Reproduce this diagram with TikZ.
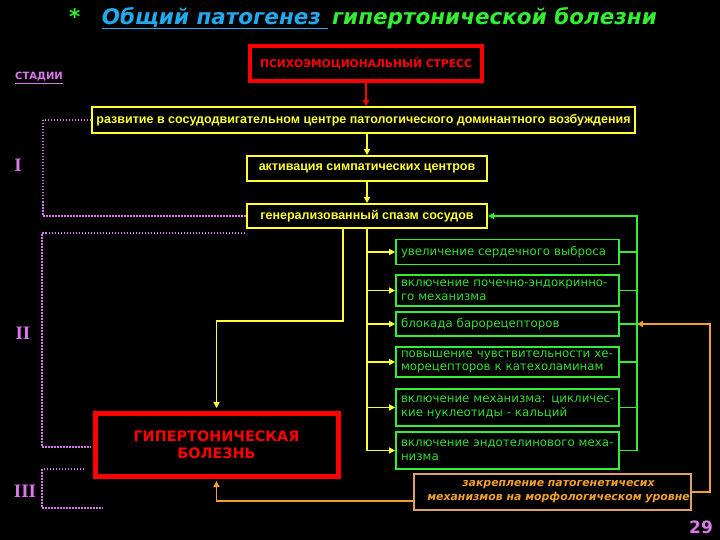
\documentclass[tikz,border=0pt]{standalone}
\usepackage{fontspec}
\setmainfont{DejaVu Sans}
\newfontfamily\narrowfont{Liberation Sans}
\newfontfamily\romfont{Liberation Serif}
\usetikzlibrary{arrows.meta, positioning}
\definecolor{ylw}{HTML}{FFFF33}
\definecolor{grn}{HTML}{33EE33}
\definecolor{gtext}{HTML}{33DD33}
\definecolor{rd}{HTML}{FF0000}
\definecolor{pnk}{HTML}{DD77EE}
\definecolor{org}{HTML}{F0A030}
\definecolor{tanline}{HTML}{E0A060}
\definecolor{sky}{HTML}{22AAEE}

\begin{document}
\begin{tikzpicture}[
        x=1pt, y=-1pt,
        >={Triangle[length=6pt, width=6pt]},
        ybox/.style={draw=ylw, line width=2pt, text=ylw, font=\narrowfont\bfseries\fontsize{12.5}{14}\selectfont, inner sep=0pt, minimum width=240pt},
        gbox/.style={draw=grn, line width=1.8pt, text=gtext, font=\fontsize{11.8}{13.5}\selectfont, align=left, text width=213pt, inner xsep=5pt, inner ysep=0pt},
        redbox/.style={draw=rd, text=rd, inner sep=0pt, align=center},
        fixbox/.style={draw=tanline, line width=1.5pt, text=org, font=\bfseries\itshape\fontsize{10.9}{14}\selectfont, align=center, inner sep=0pt, minimum width=277pt, minimum height=36pt},
        yline/.style={draw=ylw, line width=1.8pt},
        yarrow/.style={yline, ->},
        rarrow/.style={draw=rd, line width=2pt, ->},
        gline/.style={draw=grn, line width=1.6pt},
        garrow/.style={gline, ->},
        oarrow/.style={draw=org, line width=1.6pt, ->},
        stage/.style={draw=pnk, line width=1.2pt, dash pattern=on 1.5pt off 1.5pt},
        stagelab/.style={text=pnk, font=\romfont\bfseries\fontsize{19}{19}\selectfont}
    ]
        \fill[black] (0,0) rectangle (720,540);

        \node[font=\bfseries\itshape\fontsize{21.5}{24}\selectfont] (title) at (363,18)
            {\textcolor{grn}{*}\quad\textcolor{sky}{\underline{Общий патогенез }}\,\textcolor{grn}{гипертонической болезни}};
        \node[text=pnk, font=\bfseries\fontsize{10}{12}\selectfont] (stages) at (39,78) {\underline{СТАДИИ}};

        \node[redbox, line width=4pt, minimum width=232pt, minimum height=35pt, font=\bfseries\fontsize{10.7}{12}\selectfont] (stress) at (366,63.5) {ПСИХОЭМОЦИОНАЛЬНЫЙ СТРЕСС};
        \node[ybox, minimum width=543pt, minimum height=26pt] (b1) at (363.5,120) {развитие в сосудодвигательном центре патологического доминантного возбуждения};
        \node[ybox, minimum height=25pt] (b2) at (367,168.5) {активация симпатических центров};
        \node[ybox, minimum height=24pt] (b3) at (367,216) {генерализованный спазм сосудов};

        \node[gbox, minimum height=25pt] (g1) at (507.5,252) {увеличение сердечного выброса};
        \node[gbox, minimum height=31pt] (g2) at (507.5,290.5) {включение почечно-эндокринно-\\го механизма};
        \node[gbox, minimum height=24pt] (g3) at (507.5,324) {блокада барорецепторов};
        \node[gbox, minimum height=30pt] (g4) at (507.5,362) {повышение чувствительности хе-\\морецепторов к катехоламинам};
        \node[gbox, minimum height=37pt] (g5) at (507.5,407.5) {\mbox{включение механизма: цикличес-}\\кие нуклеотиды - кальций};
        \node[gbox, minimum height=37pt] (g6) at (507.5,450.5) {включение эндотелинового меха-\\низма};

        \node[redbox, line width=5pt, minimum width=243pt, minimum height=63pt, font=\bfseries\fontsize{14.4}{17}\selectfont] (gb) at (216.5,444.5) {ГИПЕРТОНИЧЕСКАЯ\\БОЛЕЗНЬ};
        \node[fixbox] (fix) at (552.5,492) {\hspace*{12pt}закрепление патогенетичесих\\\hspace*{12pt}механизмов на морфологическом уровне};

        \node[stagelab] (stI) at (18,165) {I};
        \node[stagelab] (stII) at (23,333) {II};
        \node[stagelab] (stIII) at (25,491) {III};
        \node[text=pnk, font=\bfseries\fontsize{17}{17}\selectfont] (pnum) at (701,527) {29};

        \coordinate (turn) at (343,321);
        \coordinate (bus) at (637,216);
        \coordinate (s2a) at (245,233);
        \coordinate (s2b) at (91,447);
        \coordinate (s3a) at (84,469);
        \coordinate (s3b) at (103,508);

        \draw[rarrow] (stress.south) -- (stress.south |- b1.north);
        \draw[yarrow] (b2.north |- b1.south) -- (b2.north);
        \draw[yarrow] (b2.south) -- (b3.north);
        \draw[yarrow, shorten >=2.5pt] (b3.south -| turn) -- (turn) -| (gb.north);
        \draw[yline] (b3.south) -- (b3.south |- g6.west);
        \foreach \g in {g1,g2,g3,g4,g5,g6} {
            \draw[yarrow] (b3.south |- \g.west) -- (\g.west);
            \draw[gline] (\g.east) -- (\g.east -| bus);
        }
        \draw[garrow] (g6.east -| bus) -- (bus) -- (b3.east);
        \draw[oarrow] (fix.east) -- ++(18,0) |- (g3.east -| bus);
        \draw[oarrow, shorten >=2.5pt] ([yshift=-9pt]fix.west) -| (gb.south);

        \draw[stage] (b1.west) -- ++(-48,0) |- (b3.west);
        \draw[stage] (s2a) -| (42,340) |- (s2b);
        \draw[stage] (s3a) -| (42,490) |- (s3b);
    \end{tikzpicture}
\end{document}
